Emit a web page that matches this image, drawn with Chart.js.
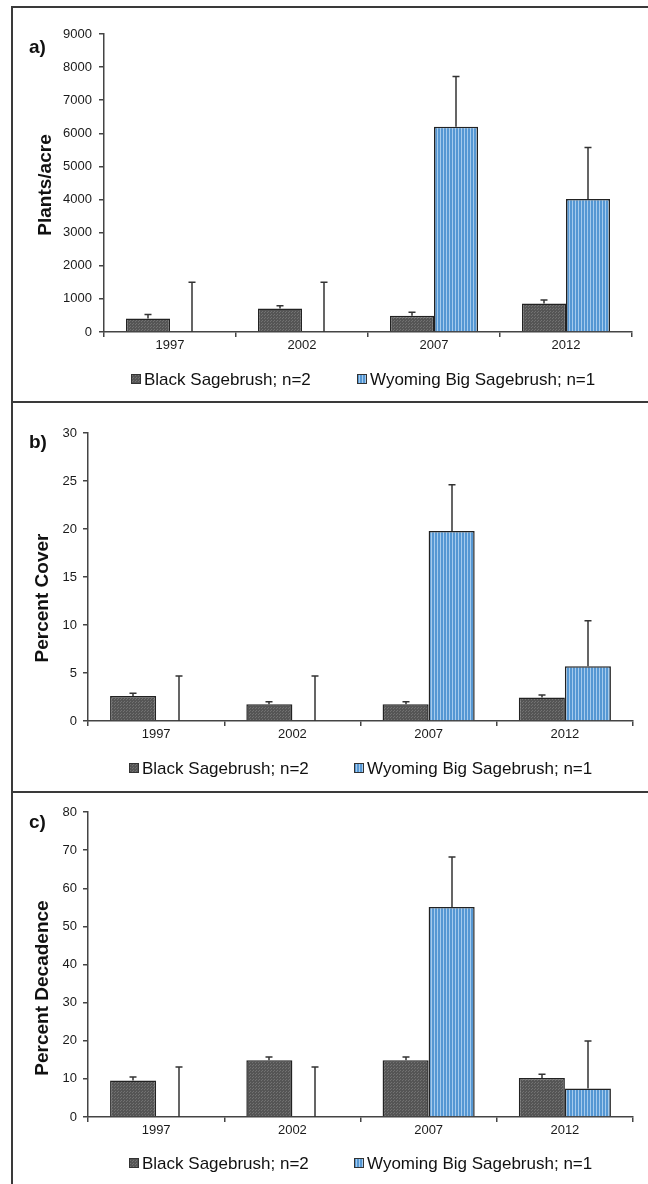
<!DOCTYPE html>
<html>
<head>
<meta charset="utf-8">
<script src="https://cdn.jsdelivr.net/npm/chart.js@4.4.1/dist/chart.umd.min.js"></script>
<style>
  body { margin: 0; background: #fff; width: 648px; height: 1184px; position: relative; overflow: hidden; }
  canvas { position: absolute; left: 0; }
  .rule { position: absolute; background: #3a3a3a; }
</style>
</head>
<body>
<canvas id="plants" width="648" height="402" style="top:0"></canvas>
<canvas id="cover" width="648" height="390" style="top:402px"></canvas>
<canvas id="decadence" width="648" height="392" style="top:792px"></canvas>
<div class="rule" style="left:11px;top:6px;width:2px;height:1178px"></div>
<div class="rule" style="left:11px;top:6px;width:637px;height:2px"></div>
<div class="rule" style="left:11px;top:401px;width:637px;height:2px"></div>
<div class="rule" style="left:11px;top:791px;width:637px;height:2px"></div>
<script>
const years = ["1997", "2002", "2007", "2012"];
const seriesNames = ["Black Sagebrush; n=2", "Wyoming Big Sagebrush; n=1"];

// a) plant density
const plantsBlack = [410, 710, 490, 860];
const plantsBlackErr = [120, 80, 110, 110];
const plantsWyoming = [0, 0, 6200, 4020];
const plantsWyomingErr = [1500, 1500, 1520, 1550];
const plantsAxis = [0, 9000, 1000]; // min, max, step

// b) canopy cover
const coverBlack = [2.6, 1.75, 1.75, 2.45];
const coverBlackErr = [0.3, 0.25, 0.25, 0.25];
const coverWyoming = [0, 0, 19.8, 5.7];
const coverWyomingErr = [4.7, 4.7, 4.8, 4.75];
const coverAxis = [0, 30, 5];

// c) decadence
const decadBlack = [9.6, 14.9, 14.9, 10.2];
const decadBlackErr = [0.9, 0.85, 0.85, 1.0];
const decadWyoming = [0, 0, 55.1, 7.45];
const decadWyomingErr = [13.1, 13.1, 13.1, 12.5];
const decadAxis = [0, 80, 10];

const FONT = "'Liberation Sans', Arial, sans-serif";
Chart.defaults.font.family = FONT;

// fill patterns: dotted dark grey and vertical blue stripes
function makePattern(w, h, paint) {
  const c = document.createElement("canvas");
  c.width = w;
  c.height = h;
  paint(c.getContext("2d"));
  return c.getContext("2d").createPattern(c, "repeat");
}
const greyFill = makePattern(3, 3, (g) => {
  g.fillStyle = "#555";
  g.fillRect(0, 0, 3, 3);
  g.fillStyle = "#727272";
  g.fillRect(0, 0, 1, 1);
  g.fillRect(1, 2, 1, 1);
});
const blueFill = makePattern(3, 1, (g) => {
  g.fillStyle = "#5597d3";
  g.fillRect(0, 0, 2, 1);
  g.fillStyle = "#a6cbed";
  g.fillRect(2, 0, 1, 1);
});

// error whiskers above each bar
const errorBars = {
  id: "errorBars",
  afterDatasetsDraw(chart) {
    const ctx = chart.ctx;
    const y = chart.scales.y;
    ctx.save();
    ctx.strokeStyle = "#333";
    ctx.lineWidth = 1.5;
    chart.data.datasets.forEach((ds, di) => {
      chart.getDatasetMeta(di).data.forEach((bar, i) => {
        const base = y.getPixelForValue(ds.data[i]);
        const top = y.getPixelForValue(ds.data[i] + ds.errors[i]);
        const x = Math.round(bar.x);
        ctx.beginPath();
        ctx.moveTo(x, base);
        ctx.lineTo(x, top);
        ctx.moveTo(x - 3.5, top);
        ctx.lineTo(x + 3.5, top);
        ctx.stroke();
      });
    });
    ctx.restore();
  },
};

// panel letter, rotated axis title and legend
const panelText = {
  id: "panelText",
  afterDraw(chart, args, opts) {
    const ctx = chart.ctx;
    ctx.save();
    ctx.fillStyle = "#111";
    ctx.font = "bold 19px " + FONT;
    ctx.textBaseline = "alphabetic";
    ctx.fillText(opts.letter, 29, opts.letterY);

    ctx.save();
    ctx.translate(opts.titleX, opts.titleY);
    ctx.rotate(-Math.PI / 2);
    ctx.textAlign = "center";
    ctx.textBaseline = "middle";
    ctx.fillText(opts.title, 0, 0);
    ctx.restore();

    ctx.font = "17px " + FONT;
    ctx.textBaseline = "middle";
    chart.data.datasets.forEach((ds, i) => {
      const x = opts.legendX[i];
      const y = opts.legendY;
      ctx.fillStyle = ds.backgroundColor;
      ctx.fillRect(x, y - 5, 10, 10);
      ctx.strokeStyle = "#333";
      ctx.lineWidth = 1;
      ctx.strokeRect(x + 0.5, y - 4.5, 9, 9);
      ctx.fillStyle = "#111";
      ctx.fillText(ds.label, x + 13, y + 1);
    });
    ctx.restore();
  },
};

function drawPanel(id, black, blackErr, wyoming, wyomingErr, axis, layout) {
  const ctx = document.getElementById(id).getContext("2d");
  return new Chart(ctx, {
    type: "bar",
    data: {
      labels: years,
      datasets: [
        {
          label: seriesNames[0],
          data: black,
          errors: blackErr,
          backgroundColor: greyFill,
          borderColor: "#222",
          borderWidth: 1.5,
        },
        {
          label: seriesNames[1],
          data: wyoming,
          errors: wyomingErr,
          backgroundColor: blueFill,
          borderColor: "#222",
          borderWidth: 1.5,
        },
      ],
    },
    options: {
      responsive: false,
      animation: false,
      events: [],
      layout: {
        padding: { top: layout.top, right: layout.right, left: 0, bottom: 0 },
      },
      datasets: {
        bar: { categoryPercentage: layout.catPct, barPercentage: 1 },
      },
      scales: {
        x: {
          grid: {
            drawOnChartArea: false,
            tickLength: 5,
            color: "#444",
            lineWidth: 1.5,
            offset: true,
          },
          border: { color: "#444", width: 1.5 },
          ticks: { color: "#1a1a1a", font: { size: 13 }, padding: 1, maxRotation: 0 },
          afterFit: (s) => {
            s.height = layout.xHeight;
          },
        },
        y: {
          min: axis[0],
          max: axis[1],
          grid: {
            drawOnChartArea: false,
            tickLength: 5,
            color: "#444",
            lineWidth: 1.5,
          },
          border: { color: "#444", width: 1.5 },
          ticks: {
            stepSize: axis[2],
            color: "#1a1a1a",
            font: { size: 13 },
            padding: layout.tickPad,
            callback: (v) => String(v),
          },
          afterFit: (s) => {
            s.width = layout.left;
          },
        },
      },
      plugins: {
        legend: { display: false },
        tooltip: { enabled: false },
        panelText: {
          letter: layout.letter,
          letterY: layout.letterY,
          title: layout.title,
          titleX: layout.titleX,
          titleY: layout.titleY,
          legendX: layout.legendX,
          legendY: layout.legendY,
        },
      },
    },
    plugins: [errorBars, panelText],
  });
}

drawPanel("plants", plantsBlack, plantsBlackErr, plantsWyoming, plantsWyomingErr, plantsAxis, {
  top: 34, right: 16, left: 104, xHeight: 70, catPct: 0.667, tickPad: 7,
  letter: "a)", letterY: 53, title: "Plants/acre", titleX: 46, titleY: 185,
  legendX: [131, 357], legendY: 379,
});

drawPanel("cover", coverBlack, coverBlackErr, coverWyoming, coverWyomingErr, coverAxis, {
  top: 31, right: 15, left: 88, xHeight: 71, catPct: 0.676, tickPad: 6,
  letter: "b)", letterY: 46, title: "Percent Cover", titleX: 43, titleY: 196,
  legendX: [129, 354], legendY: 366,
});

drawPanel("decadence", decadBlack, decadBlackErr, decadWyoming, decadWyomingErr, decadAxis, {
  top: 20, right: 15, left: 88, xHeight: 67, catPct: 0.676, tickPad: 6,
  letter: "c)", letterY: 36, title: "Percent Decadence", titleX: 43, titleY: 196,
  legendX: [129, 354], legendY: 371,
});
</script>
</body>
</html>
